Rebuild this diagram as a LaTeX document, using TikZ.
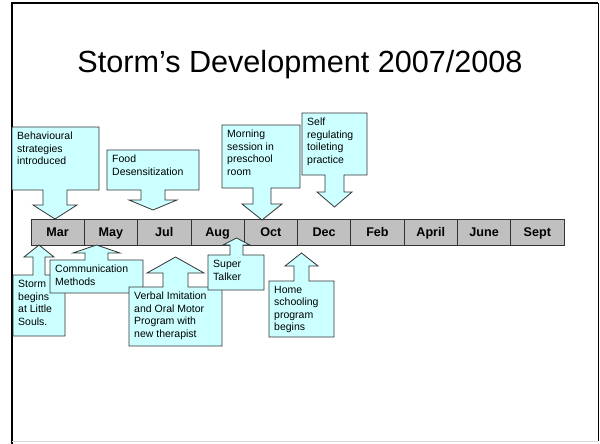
\documentclass[tikz,border=0pt]{standalone}
\usepackage{fontspec}
\setmainfont{Liberation Sans}
\usepackage{xcolor}
\usetikzlibrary{positioning}

\definecolor{calloutcyan}{HTML}{CCFFFF}
\definecolor{cellgray}{HTML}{C0C0C0}

\tikzset{
  callout/.style={draw=black!80, fill=calloutcyan, line width=0.8pt, line join=miter},
  note/.style={anchor=north west, inner sep=5pt, align=left, font=\fontsize{10.5}{12.5}\selectfont},
  cell/.style={draw=black!80, fill=cellgray, line width=0.8pt, minimum width=53.3pt,
    minimum height=26pt, inner sep=0pt, outer sep=0pt, text height=9pt, text depth=1pt,
    font=\bfseries\fontsize{12.6}{14}\selectfont},
}

\begin{document}
\begin{tikzpicture}[x=1pt, y=-1pt]
    \useasboundingbox (0,0) rectangle (600,444);
    \fill[white] (0,0) rectangle (600,444);

    % slide frame
    \draw[line width=2pt] (12,444) -- (12,3) -- (598,3);
    \draw[line width=0.8pt] (598,3) -- (598,441);
    \draw[black!15, line width=0.8pt] (12,441) -- (598,441);

    \node[anchor=base, font=\fontsize{30.6}{36}\selectfont] (title) at (300,73) {Storm’s Development 2007/2008};

    % time line
    \node[cell] (mar) at (57.65,232) {Mar};
    \node[cell, right=0pt of mar] (may) {May};
    \node[cell, right=0pt of may] (jul) {Jul};
    \node[cell, right=0pt of jul] (aug) {Aug};
    \node[cell, right=0pt of aug] (oct) {Oct};
    \node[cell, right=0pt of oct] (dec) {Dec};
    \node[cell, right=0pt of dec] (feb) {Feb};
    \node[cell, right=0pt of feb] (apr) {April};
    \node[cell, right=0pt of apr] (jun) {June};
    \node[cell, right=0pt of jun] (sep) {Sept};

    % callouts above
    \draw[callout] (12,127) -- (99,127) -- (99,190) -- (67,190) -- (67,205) -- (77,205) -- (55,219)
        -- (33,205) -- (43,205) -- (43,190) -- (12,190) -- cycle;
    \node[note] (beh) at (12,127) {Behavioural\\strategies\\introduced};

    \draw[callout] (107,150) -- (199,150) -- (199,190) -- (165,190) -- (165,200) -- (177,200) -- (153,210)
        -- (129,200) -- (141,200) -- (141,190) -- (107,190) -- cycle;
    \node[note] (food) at (107,150) {Food\\Desensitization};

    \draw[callout] (222,125) -- (300,125) -- (300,188) -- (271,188) -- (271,204) -- (282,204) -- (262,220)
        -- (242,204) -- (253,204) -- (253,188) -- (222,188) -- cycle;
    \node[note] (morn) at (222,125) {Morning\\session in\\preschool\\room};

    \draw[callout] (302,113) -- (367,113) -- (367,175) -- (344,175) -- (344,192) -- (352,192) -- (334.5,207)
        -- (317,192) -- (325,192) -- (325,175) -- (302,175) -- cycle;
    \node[note] (self) at (302,113) {Self\\regulating\\toileting\\practice};

    % callouts below
    \draw[callout] (13,336) -- (13,275) -- (33,275) -- (33,257) -- (24,257) -- (39,245) -- (54,257)
        -- (45,257) -- (45,275) -- (65,275) -- (65,336) -- cycle;
    \node[note] (storm) at (13,275) {Storm\\begins\\at Little\\Souls.};

    \draw[callout] (50,293) -- (50,260) -- (85,260) -- (85,253) -- (73,253) -- (96.5,245) -- (120,253)
        -- (108,253) -- (108,260) -- (143,260) -- (143,293) -- cycle;
    \node[note] (comm) at (50,260) {Communication\\Methods};

    \draw[callout] (129,346) -- (129,287) -- (163,287) -- (163,273) -- (147,273) -- (175.5,257) -- (204,273)
        -- (188,273) -- (188,287) -- (222,287) -- (222,346) -- cycle;
    \node[note] (verb) at (129,287) {Verbal Imitation\\and Oral Motor\\Program with\\new therapist};

    \draw[callout] (208,290) -- (208,255) -- (230,255) -- (230,245) -- (223,245) -- (236.5,238) -- (250,245)
        -- (243,245) -- (243,255) -- (264,255) -- (264,290) -- cycle;
    \node[note] (super) at (208,255) {Super\\Talker};

    \draw[callout] (269,337) -- (269,281) -- (294,281) -- (294,266) -- (285,266) -- (301.5,253) -- (318,266)
        -- (309,266) -- (309,281) -- (334,281) -- (334,337) -- cycle;
    \node[note] (home) at (269,281) {Home\\schooling\\program\\begins};
\end{tikzpicture}
\end{document}
